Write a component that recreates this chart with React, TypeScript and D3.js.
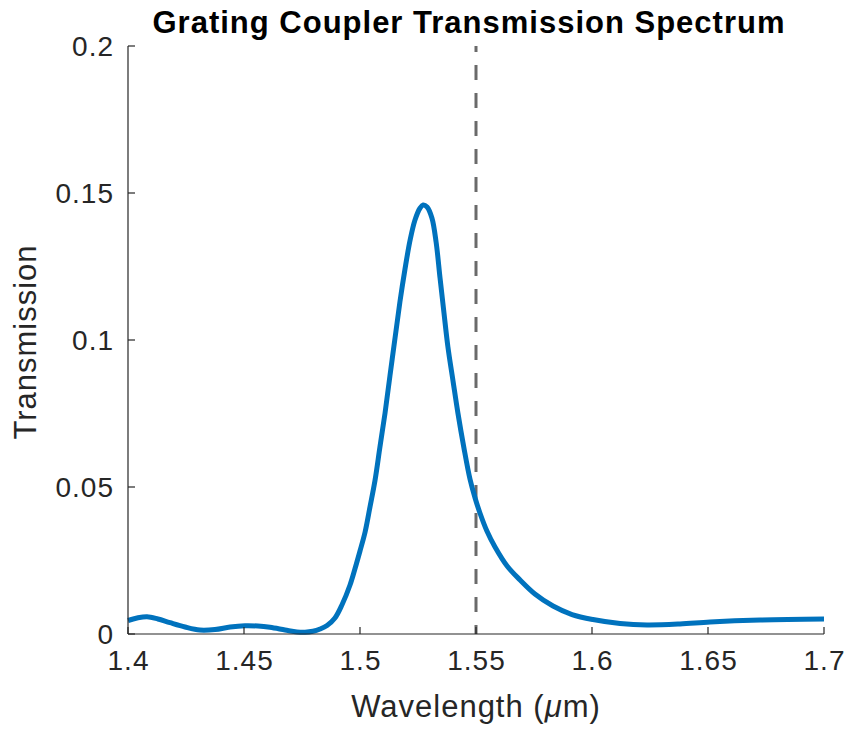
import React from "react";
import * as d3 from "d3";

const wavelength = [
  1.4000, 1.4039, 1.4082, 1.4129, 1.4181, 1.4246, 1.4310, 1.4375, 1.4440, 1.4504,
  1.4560, 1.4612, 1.4677, 1.4728, 1.4763, 1.4797, 1.4828, 1.4858, 1.4892, 1.4922,
  1.4957, 1.4978, 1.5000, 1.5022, 1.5043, 1.5065, 1.5086, 1.5108, 1.5129, 1.5151,
  1.5172, 1.5194, 1.5216, 1.5237, 1.5259, 1.5272, 1.5289, 1.5310, 1.5328, 1.5345,
  1.5362, 1.5379, 1.5401, 1.5422, 1.5448, 1.5474, 1.5496, 1.5517, 1.5547, 1.5582,
  1.5634, 1.5690, 1.5754, 1.5832, 1.5914, 1.6004, 1.6121, 1.6237, 1.6379, 1.6509,
  1.6724, 1.7000,
];
const transmission = [
  0.00459, 0.00544, 0.00588, 0.00510, 0.00384, 0.00238, 0.00136, 0.00153, 0.00238, 0.00282,
  0.00272, 0.00228, 0.00136, 0.00068, 0.00058, 0.00092, 0.00170, 0.00289, 0.00544, 0.00986,
  0.01667, 0.02210, 0.02823, 0.03469, 0.04320, 0.05238, 0.06361, 0.07517, 0.08776, 0.10068,
  0.11293, 0.12415, 0.13401, 0.14082, 0.14490, 0.14592, 0.14524, 0.14150, 0.13333, 0.12109,
  0.10918, 0.09762, 0.08605, 0.07517, 0.06327, 0.05272, 0.04626, 0.04116, 0.03503, 0.02959,
  0.02313, 0.01837, 0.01361, 0.00952, 0.00663, 0.00493, 0.00357, 0.00306, 0.00340, 0.00408,
  0.00476, 0.00510,
];
const xTicks = [1.4, 1.45, 1.5, 1.55, 1.6, 1.65, 1.7];
const xTickLabels = ["1.4", "1.45", "1.5", "1.55", "1.6", "1.65", "1.7"];
const yTicks = [0, 0.05, 0.1, 0.15, 0.2];
const yTickLabels = ["0", "0.05", "0.1", "0.15", "0.2"];
const markerWavelength = [1.55];
const titleText = "Grating Coupler Transmission Spectrum";
const xLabel = "Wavelength (";
const xLabelMu = "\u03bc";
const xLabelEnd = "m)";
const yLabel = "Transmission";

export default function App() {
  const W = 848, H = 731;
  const left = 128, right = 824, top = 46, bottom = 634;
  const x = d3.scaleLinear().domain([1.4, 1.7]).range([left, right]);
  const y = d3.scaleLinear().domain([0, 0.2]).range([bottom, top]);
  const pts: [number, number][] = wavelength.map((w, i) => [w, transmission[i]]);
  const line = d3
    .line<[number, number]>()
    .x((d) => x(d[0]))
    .y((d) => y(d[1]))
    .curve(d3.curveCatmullRom.alpha(0.5));
  const axisColor = "#262626";
  const font = "'Liberation Sans', Arial, Helvetica, sans-serif";
  return (
    <svg
      width={W}
      height={H}
      style={{ position: "absolute", left: 0, top: 0, background: "#fff" }}
      fontFamily={font}
    >
      <rect x={0} y={0} width={W} height={H} fill="#fff" />
      {markerWavelength.map((m) => (
        <line
          key={m}
          x1={x(m)}
          x2={x(m)}
          y1={top}
          y2={bottom}
          stroke="#6a6a6a"
          strokeWidth={3}
          strokeDasharray="15,13"
          strokeDashoffset={9}
        />
      ))}
      <path d={line(pts) || ""} fill="none" stroke="#0072BD" strokeWidth={5} strokeLinejoin="round" />
      <line x1={left} x2={right} y1={bottom} y2={bottom} stroke={axisColor} strokeWidth={1.2} />
      <line x1={left} x2={left} y1={top} y2={bottom} stroke={axisColor} strokeWidth={1.2} />
      {xTicks.map((t, i) => (
        <g key={"x" + t}>
          <line x1={x(t)} x2={x(t)} y1={bottom} y2={bottom - 7} stroke={axisColor} strokeWidth={1.2} />
          <text x={x(t) + 0.5} y={bottom + 36} textAnchor="middle" fontSize={28} letterSpacing={1} fill={axisColor}>
            {xTickLabels[i]}
          </text>
        </g>
      ))}
      {yTicks.map((t, i) => (
        <g key={"y" + t}>
          <line x1={left} x2={left + 7} y1={y(t)} y2={y(t)} stroke={axisColor} strokeWidth={1.2} />
          <text x={left - 14} y={y(t) + 10} textAnchor="end" fontSize={28} letterSpacing={1} fill={axisColor}>
            {yTickLabels[i]}
          </text>
        </g>
      ))}
      <text x={(left + right) / 2} y={bottom + 83} textAnchor="middle" fontSize={31} letterSpacing={1} fill={axisColor}>
        {xLabel}
        <tspan fontStyle="italic">{xLabelMu}</tspan>
        {xLabelEnd}
      </text>
      <text
        transform={`translate(36, ${(top + bottom) / 2 + 2}) rotate(-90)`}
        textAnchor="middle"
        fontSize={31}
        letterSpacing={1}
        fill={axisColor}
      >
        {yLabel}
      </text>
      <text x={(left + right) / 2 - 7} y={33} textAnchor="middle" fontSize={31} letterSpacing={1} fontWeight="bold" fill="#000">
        {titleText}
      </text>
    </svg>
  );
}
